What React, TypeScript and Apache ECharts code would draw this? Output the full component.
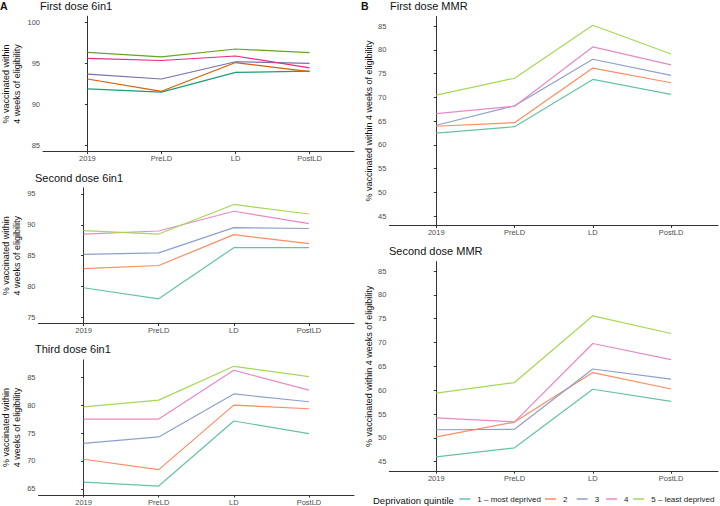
import React, { useEffect, useRef } from "react";
import * as echarts from "echarts";

const periods = ["2019", "PreLD", "LD", "PostLD"];
const quintiles = ["1 – most deprived", "2", "3", "4", "5 – least deprived"];

const first6in1 = [
  [91.9, 91.5, 93.9, 94.05],
  [93.1, 91.6, 95.1, 94.0],
  [93.7, 93.1, 95.2, 95.0],
  [95.6, 95.35, 95.9, 94.45],
  [96.35, 95.8, 96.75, 96.3],
];
const second6in1 = [
  [79.8, 78.0, 86.3, 86.3],
  [82.9, 83.4, 88.4, 86.95],
  [85.2, 85.45, 89.55, 89.4],
  [88.5, 89.0, 92.2, 90.2],
  [89.05, 88.5, 93.3, 91.75],
];
const third6in1 = [
  [66.2, 65.5, 77.15, 74.9],
  [70.3, 68.45, 80.0, 79.35],
  [73.15, 74.3, 82.0, 80.6],
  [77.5, 77.5, 86.25, 82.7],
  [79.7, 80.9, 86.95, 85.1],
];
const firstMMR = [
  [62.45, 63.8, 73.75, 70.6],
  [63.9, 64.65, 76.15, 73.05],
  [64.1, 68.2, 78.0, 74.6],
  [66.55, 68.1, 80.6, 76.8],
  [70.45, 74.0, 85.15, 79.1],
];
const secondMMR = [
  [46.0, 47.9, 60.2, 57.65],
  [50.2, 53.3, 63.7, 60.25],
  [51.7, 51.8, 64.45, 62.3],
  [54.2, 53.35, 69.8, 66.4],
  [59.4, 61.6, 75.6, 71.9],
];

const ticksA1 = [85, 90, 95, 100];
const ticksA2 = [75, 80, 85, 90, 95];
const ticksA3 = [65, 70, 75, 80, 85];
const ticksB = [45, 50, 55, 60, 65, 70, 75, 80, 85];

const panelTitles = ["First dose 6in1", "Second dose 6in1", "Third dose 6in1", "First dose MMR", "Second dose MMR"];

const dark2 = ["#1B9E77", "#D95F02", "#7570B3", "#E7298A", "#66A61E"];
const set2 = ["#66C2A5", "#FC8D62", "#8DA0CB", "#E78AC3", "#A6D854"];

const FONT = "Liberation Sans, Arial, sans-serif";

export default function App() {
  const ref = useRef<HTMLDivElement>(null);
  useEffect(() => {
    document.body.style.margin = "0";
    const chart = echarts.init(ref.current!, undefined, { renderer: "svg" });

    const grids = [
      { left: 39.3, top: 16.2, width: 314.7, height: 135.4 },
      { left: 34.5, top: 187.8, width: 319.5, height: 135.7 },
      { left: 35, top: 359.9, width: 319, height: 136 },
      { left: 389.3, top: 16.5, width: 328.7, height: 209 },
      { left: 389.3, top: 261.5, width: 328.7, height: 209.7 },
    ];
    const yCfg = [
      { min: 84.25, max: 100.75, ticks: ticksA1, name: "% vaccinated within\n4 weeks of eligibility", gap: 21 },
      { min: 74, max: 96, ticks: ticksA2, name: "% vaccinated within\n4 weeks of eligibility", gap: 16.5 },
      { min: 63.9, max: 88.1, ticks: ticksA3, name: "% vaccinated within\n4 weeks of eligibility", gap: 16.5 },
      { min: 43, max: 87, ticks: ticksB, name: "% vaccinated within 4 weeks of eligibility", gap: 14 },
      { min: 43, max: 87, ticks: ticksB, name: "% vaccinated within 4 weeks of eligibility", gap: 14 },
    ];
    const datasets = [first6in1, second6in1, third6in1, firstMMR, secondMMR];

    const axisLine = { show: true, lineStyle: { color: "#333", width: 1 } };
    const xAxis = grids.map((_, i) => ({
      type: "value",
      gridIndex: i,
      min: -0.6,
      max: 3.6,
      splitLine: { show: false },
      axisLine,
      axisTick: { show: true, customValues: [0, 1, 2, 3], length: 2.5, lineStyle: { color: "#333" } },
      axisLabel: {
        customValues: [0, 1, 2, 3],
        formatter: (v: number) => periods[Math.round(v)] ?? "",
        fontSize: 7.5,
        color: "#4D4D4D",
        fontFamily: FONT,
        margin: 3,
      },
    }));
    const yAxis = yCfg.map((c, i) => ({
      type: "value",
      gridIndex: i,
      min: c.min,
      max: c.max,
      splitLine: { show: false },
      axisLine,
      axisTick: { show: true, customValues: c.ticks, length: 2.5, lineStyle: { color: "#333" } },
      axisLabel: { customValues: c.ticks, fontSize: 7.5, color: "#4D4D4D", fontFamily: FONT, margin: 3 },
      name: c.name,
      nameLocation: "middle",
      nameRotate: 90,
      nameGap: c.gap,
      nameTextStyle: { fontSize: 9, color: "#111", fontFamily: FONT, lineHeight: 10.5, fontWeight: 400 },
    }));

    const series: any[] = [];
    datasets.forEach((ds, p) => {
      ds.forEach((vals, q) => {
        series.push({
          type: "line",
          name: p === 0 ? "A1 " + quintiles[q] : quintiles[q],
          xAxisIndex: p,
          yAxisIndex: p,
          data: vals.map((v, k) => [k, v]),
          showSymbol: false,
          symbol: "none",
          lineStyle: { width: 1.2, color: p === 0 ? dark2[q] : set2[q] },
          itemStyle: { color: p === 0 ? dark2[q] : set2[q] },
          silent: true,
        });
      });
    });

    const txt = (text: string, x: number, y: number, size: number, weight: number | string = "normal") => ({
      type: "text",
      x,
      y,
      silent: true,
      style: {
        text,
        fontSize: size,
        fontFamily: FONT,
        fontWeight: weight,
        fill: "#111",
        verticalAlign: "middle",
        align: "left",
      },
    });
    const graphic = [
      txt("A", 0, 6, 10.5, "bold"),
      txt("B", 361, 6, 10.5, "bold"),
      txt(panelTitles[0], 40, 6, 11),
      txt(panelTitles[1], 35, 177.5, 11),
      txt(panelTitles[2], 35, 349, 11),
      txt(panelTitles[3], 390, 6, 11),
      txt(panelTitles[4], 389, 251, 11),
      txt("Deprivation quintile", 373, 500, 9.5),
    ];

    const legendLefts = [459.3, 545, 576.7, 606, 633.3];
    const legend = quintiles.map((q, i) => ({
      data: [q],
      left: legendLefts[i],
      top: 495,
      padding: 0,
      icon: "rect",
      itemWidth: 11,
      itemHeight: 1.5,
      selectedMode: false,
      textStyle: { fontSize: 8, color: "#222", fontFamily: FONT, padding: [0, 0, 0, 2] },
    }));

    chart.setOption({
      animation: false,
      backgroundColor: "#fff",
      graphic,
      legend,
      grid: grids.map((g) => ({ ...g, containLabel: false })),
      xAxis,
      yAxis,
      series,
    } as any);
    return () => chart.dispose();
  }, []);
  return <div ref={ref} style={{ width: 720, height: 506 }} />;
}
